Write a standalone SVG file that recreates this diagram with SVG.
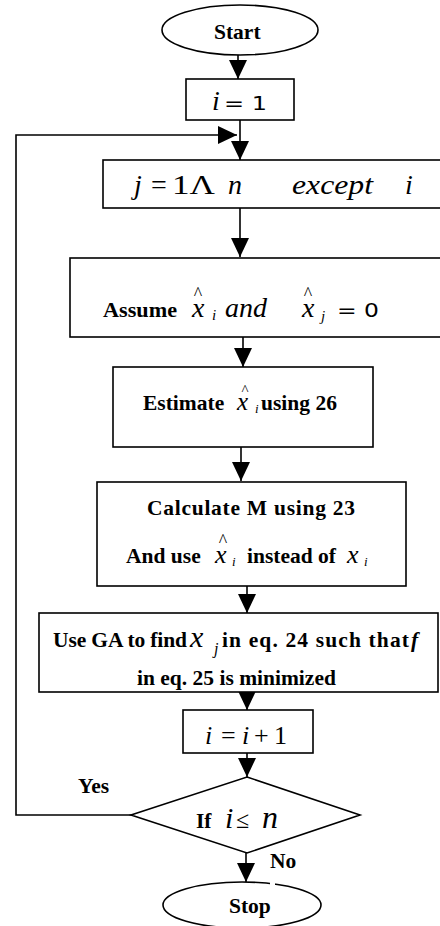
<svg xmlns="http://www.w3.org/2000/svg" width="440" height="926" viewBox="0 0 440 926">
<defs>
<style>
.b{font-family:"Liberation Serif","Times New Roman",serif;font-weight:bold;font-size:21.5px;fill:#000}
.m{font-family:"Liberation Serif","Times New Roman",serif;font-style:italic;font-size:28px;fill:#000}
.r{font-family:"Liberation Serif","Times New Roman",serif;font-size:28px;fill:#000}
.s{font-family:"DejaVu Sans",sans-serif;font-size:20px;fill:#000}
.sub{font-family:"Liberation Serif","Times New Roman",serif;font-style:italic;font-size:15px;fill:#000}
.hat{font-family:"Liberation Serif","Times New Roman",serif;font-size:18px;fill:#000;text-anchor:middle}
.box{fill:#fff;stroke:#000;stroke-width:1.6}
.ln{stroke:#000;stroke-width:1.6;fill:none}
</style>
<marker id="ah" markerUnits="userSpaceOnUse" markerWidth="20" markerHeight="20" refX="19" refY="9" orient="auto" viewBox="0 0 20 18">
<path d="M0,0 L19,9 L0,18 z" fill="#000"/>
</marker>
</defs>
<rect width="440" height="926" fill="#fff"/>

<g id="connectors">
<line class="ln" x1="238" y1="55" x2="238" y2="79" marker-end="url(#ah)"/>
<line class="ln" x1="240" y1="120" x2="240" y2="160" marker-end="url(#ah)"/>
<polyline class="ln" points="131,815 16,815 16,135 237,135" marker-end="url(#ah)"/>
<line class="ln" x1="240" y1="208" x2="240" y2="257" marker-end="url(#ah)"/>
<line class="ln" x1="243" y1="337" x2="243" y2="367" marker-end="url(#ah)"/>
<line class="ln" x1="241" y1="447" x2="241" y2="481" marker-end="url(#ah)"/>
<line class="ln" x1="247" y1="586" x2="247" y2="613" marker-end="url(#ah)"/>
<line class="ln" x1="247" y1="692" x2="247" y2="710" marker-end="url(#ah)"/>
<line class="ln" x1="247" y1="753" x2="247" y2="777" marker-end="url(#ah)"/>
<line class="ln" x1="246" y1="853" x2="246" y2="882" marker-end="url(#ah)"/>
</g>

<g id="start">
<ellipse class="box" cx="240" cy="30" rx="78" ry="25"/>
<text class="b" x="214" y="39">Start</text>
</g>

<g id="init">
<rect class="box" x="186" y="79" width="108" height="41"/>
<text class="m" x="212" y="110">i</text>
<text class="s" x="224" y="110" textLength="43" lengthAdjust="spacingAndGlyphs">= 1</text>
</g>

<g id="loopj">
<rect class="box" x="103" y="160" width="340" height="48"/>
<text class="m" x="134" y="194">j</text>
<text class="r" x="151" y="194">=</text>
<text class="r" x="172" y="194" textLength="43" lengthAdjust="spacingAndGlyphs">1Λ</text>
<text class="m" x="228" y="194">n</text>
<text class="m" x="292" y="194" textLength="81" lengthAdjust="spacingAndGlyphs">except</text>
<text class="m" x="405" y="194">i</text>
</g>

<g id="assume">
<rect class="box" x="70" y="258" width="373" height="79"/>
<text class="b" x="103" y="317" textLength="74" lengthAdjust="spacingAndGlyphs">Assume</text>
<text class="hat" x="198" y="300">^</text>
<text class="m" x="192" y="317">x</text>
<text class="sub" x="212" y="320">i</text>
<text class="m" x="225" y="317">and</text>
<text class="hat" x="308" y="300">^</text>
<text class="m" x="302" y="317">x</text>
<text class="sub" x="321" y="321">j</text>
<text class="s" x="337" y="317" textLength="42" lengthAdjust="spacingAndGlyphs">= 0</text>
</g>

<g id="estimate">
<rect class="box" x="113" y="367" width="260" height="80"/>
<text class="b" x="143" y="410">Estimate</text>
<text class="hat" x="245" y="395" style="font-size:15px">^</text>
<text class="m" x="237" y="410" style="font-size:25px">x</text>
<text class="sub" x="255" y="413" style="font-size:13px">i</text>
<text class="b" x="261" y="410">using 26</text>
</g>

<g id="calculate">
<rect class="box" x="97" y="482" width="309" height="104"/>
<text class="b" x="147" y="515" textLength="208" lengthAdjust="spacing">Calculate  M using 23</text>
<text class="b" x="126" y="563">And use</text>
<text class="hat" x="223" y="547">^</text>
<text class="m" x="215" y="563" style="font-size:26px">x</text>
<text class="sub" x="232" y="566" style="font-size:13px">i</text>
<text class="b" x="247" y="563">instead of</text>
<text class="m" x="347" y="563" style="font-size:26px">x</text>
<text class="sub" x="364" y="566" style="font-size:13px">i</text>
</g>

<g id="usega">
<rect class="box" x="39" y="613" width="399" height="79"/>
<text class="b" x="53" y="647" textLength="134" lengthAdjust="spacing">Use GA to find</text>
<text class="m" x="190" y="647" style="font-size:30px">x</text>
<text class="sub" x="214" y="654" style="font-size:16px">j</text>
<text class="b" x="222" y="647" textLength="187" lengthAdjust="spacing">in eq. 24 such that</text>
<text class="b" x="411" y="647" style="font-style:italic">f</text>
<text class="b" x="137" y="685">in eq. 25 is minimized</text>
</g>

<g id="increment">
<rect class="box" x="183" y="710" width="130" height="43"/>
<text class="m" x="205" y="744" style="font-size:26px">i</text>
<text class="r" x="221" y="744" style="font-size:26px">=</text>
<text class="m" x="242" y="744" style="font-size:26px">i</text>
<text class="r" x="254" y="744" style="font-size:26px">+</text>
<text class="r" x="274" y="744" style="font-size:26px">1</text>
</g>

<g id="decision">
<polygon class="box" points="247,777 360,815 247,853 131,815"/>
<text class="b" x="196" y="828">If</text>
<text class="m" x="225" y="828" style="font-size:30px">i</text>
<text class="r" x="236" y="828" style="font-size:24px">≤</text>
<text class="m" x="262" y="828" style="font-size:32px">n</text>
</g>

<g id="stop">
<ellipse class="box" cx="242" cy="905" rx="79" ry="23"/>
<text class="b" x="229" y="913">Stop</text>
</g>

<g id="labels">
<text class="b" x="78" y="793">Yes</text>
<rect x="270" y="878" width="5" height="8" fill="#fff"/>
<text class="b" x="270" y="868">No</text>
</g>
</svg>
